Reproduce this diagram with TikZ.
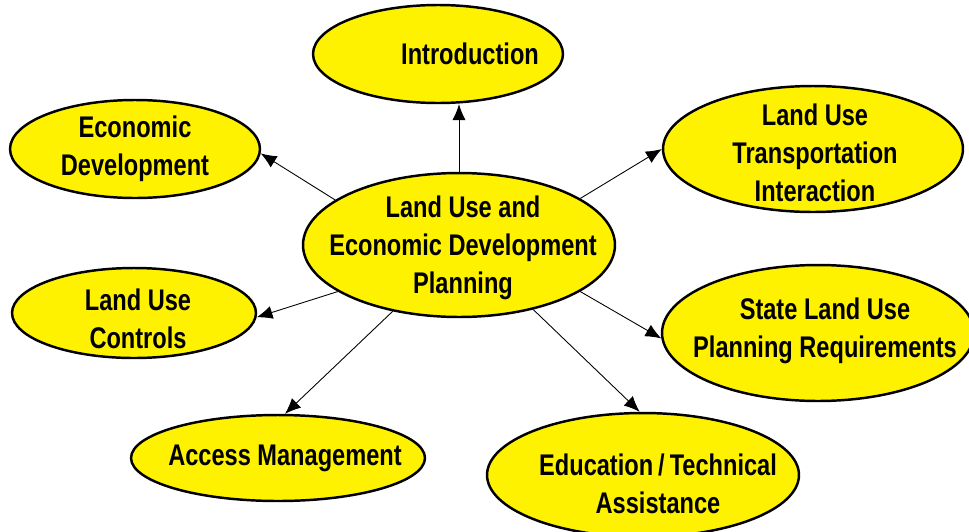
\documentclass[tikz,border=0pt]{standalone}
\usepackage{fontspec}
\newfontfamily\labelfont{Liberation Sans Bold}[FakeStretch=0.79]
\usetikzlibrary{shapes.geometric,arrows.meta}

\begin{document}
\begin{tikzpicture}[x=0.02cm,y=-0.02cm,
  bubble/.style={ellipse,draw,line width=1.4pt,fill=yellow,inner sep=0pt},
  lbl/.style={align=center,inner sep=0pt,font=\labelfont\fontsize{17}{21.5}\selectfont},
  arr/.style={-{Latex[length=9pt,width=7.5pt]},line width=0.5pt}]
\clip (0,0) rectangle (969,531);
% bubbles
\node[bubble,minimum width=5cm,minimum height=1.96cm] (intro) at (438,54) {};
\node[bubble,minimum width=5cm,minimum height=1.96cm] (econ) at (135,149) {};
\node[bubble,minimum width=6cm,minimum height=2.52cm] (luti) at (813,149) {};
\node[bubble,minimum width=6.24cm,minimum height=2.88cm] (plan) at (459,245) {};
\node[bubble,minimum width=4.88cm,minimum height=1.8cm] (ctrl) at (134,313) {};
\node[bubble,minimum width=6.24cm,minimum height=2.72cm] (state) at (818,333) {};
\node[bubble,minimum width=5.88cm,minimum height=1.72cm] (access) at (278,458) {};
\node[bubble,minimum width=6.24cm,minimum height=2.48cm] (edu) at (643,475) {};
% labels
\node[lbl] (intro-t) at (470,54) {Introduction};
\node[lbl] (econ-t) at (135,149) {Economic\\Development};
\node[lbl] (luti-t) at (815,153) {Land Use\\Transportation\\Interaction};
\node[lbl] (plan-t) at (463,248) {Land Use and\\Economic Development\\Planning};
\node[lbl] (ctrl-t) at (138,319) {Land Use\\Controls};
\node[lbl] (state-t) at (825,331) {State Land Use\\Planning Requirements};
\node[lbl] (access-t) at (285,458) {Access Management};
\node[lbl] (edu-t) at (658,484) {Education\,/\,Technical\\Assistance};
% arrows
\draw[arr] (plan.north) -- (plan.north |- intro.south);
\draw[arr] (plan.160) -- (econ.-2);
\draw[arr] (plan.21) -- (luti.180);
\draw[arr] (plan.201) -- (ctrl.-2);
\draw[arr] (plan.-21) -- (state.182);
\draw[arr] (plan.225) -- (access.81);
\draw[arr] (plan.-41) -- (edu.93);
\end{tikzpicture}
\end{document}
